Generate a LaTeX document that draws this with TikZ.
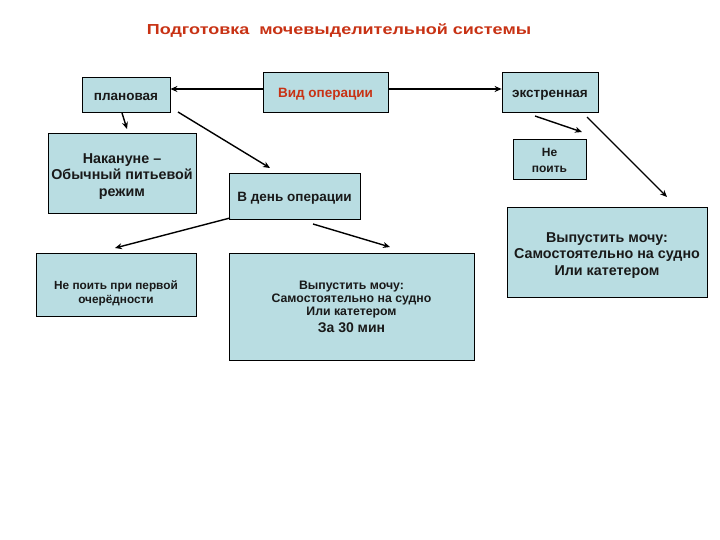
\documentclass[tikz,border=0pt]{standalone}
\usepackage{fontspec}
\setmainfont{Liberation Sans}
\usetikzlibrary{arrows.meta}
\definecolor{boxfill}{RGB}{185,221,226}
\definecolor{titlered}{RGB}{200,50,20}
\definecolor{txt}{RGB}{25,25,25}
\tikzset{
  box/.style={draw=black, line width=0.8pt, fill=boxfill, inner sep=0pt},
  conn/.style={-{Stealth[length=7pt,width=6pt]}, line width=1.4pt, black},
  lbl/.style={inner sep=0pt, text=txt, align=center},
  big/.style={font=\fontsize{13.5}{15}\selectfont\bfseries},
  bigger/.style={font=\fontsize{14.3}{16.5}\selectfont\bfseries}
}
\begin{document}
\begin{tikzpicture}[x=1pt,y=-1pt]
\useasboundingbox[fill=white] (0,0) rectangle (720,540);
% title
\node[inner sep=0pt, text=titlered, font=\fontsize{14.5}{16}\selectfont\bfseries] (title) at (339,31) {\scalebox{1.24}[1]{Подготовка\ \ мочевыделительной системы}};
% boxes
\node[box, minimum width=88pt, minimum height=35pt] (plan) at (126,94.5) {};
\node[lbl, big] (planT) at (126,96.5) {плановая};
\node[box, minimum width=125pt, minimum height=40pt] (vid) at (325.5,92) {};
\node[lbl, big, text=titlered] (vidT) at (325.5,94) {Вид операции};
\node[box, minimum width=96pt, minimum height=40pt] (ekst) at (550,92) {};
\node[lbl, big] (ekstT) at (550,95) {экстренная};
\node[box, minimum width=73pt, minimum height=40pt] (nepoit) at (549.5,159) {};
\node[lbl, font=\fontsize{12}{16}\selectfont\bfseries] (nepoitT) at (549.5,160) {Не\\поить};
\node[box, minimum width=148pt, minimum height=80pt] (nakan) at (122,173) {};
\node[lbl, bigger] (nakanT) at (122,176.5) {Накануне –\\Обычный питьевой\\режим};
\node[box, minimum width=131pt, minimum height=46pt] (vden) at (294.5,196) {};
\node[lbl, big] (vdenT) at (294.5,198.5) {В день операции};
\node[box, minimum width=200pt, minimum height=90pt] (vypR) at (607,252) {};
\node[lbl, bigger] (vypRT) at (607,255.5) {Выпустить мочу:\\Самостоятельно на судно\\Или катетером};
\node[box, minimum width=160pt, minimum height=63pt] (nepervoi) at (116,284.5) {};
\node[lbl, font=\fontsize{11.8}{14}\selectfont\bfseries] (nepervoiT) at (116,293) {Не поить при первой\\очерёдности};
\node[box, minimum width=245pt, minimum height=107pt] (vypM) at (351.5,306.5) {};
\node[lbl, font=\fontsize{12.3}{13}\selectfont\bfseries] (vypMT) at (351.5,307) {Выпустить мочу:\\Самостоятельно на судно\\Или катетером\\[3.5pt]{\fontsize{14}{15}\selectfont За 30 мин}};
% connectors
\coordinate (a1) at (122,113);
\coordinate (a2) at (127,129);
\coordinate (b1) at (178,112);
\coordinate (b2) at (270,168);
\coordinate (c1) at (535,116);
\coordinate (c2) at (582,132);
\coordinate (d1) at (587,117);
\coordinate (d2) at (667,197);
\coordinate (e1) at (230,218);
\coordinate (e2) at (115,248);
\coordinate (f1) at (313,224);
\coordinate (f2) at (390,247);
\draw[conn] (vid.west |- 0,89) -- (plan.east |- 0,89);
\draw[conn] (vid.east |- 0,89) -- (ekst.west |- 0,89);
\draw[conn] (a1) -- (a2);
\draw[conn] (b1) -- (b2);
\draw[conn] (c1) -- (c2);
\draw[conn] (d1) -- (d2);
\draw[conn] (e1) -- (e2);
\draw[conn] (f1) -- (f2);
\end{tikzpicture}
\end{document}
